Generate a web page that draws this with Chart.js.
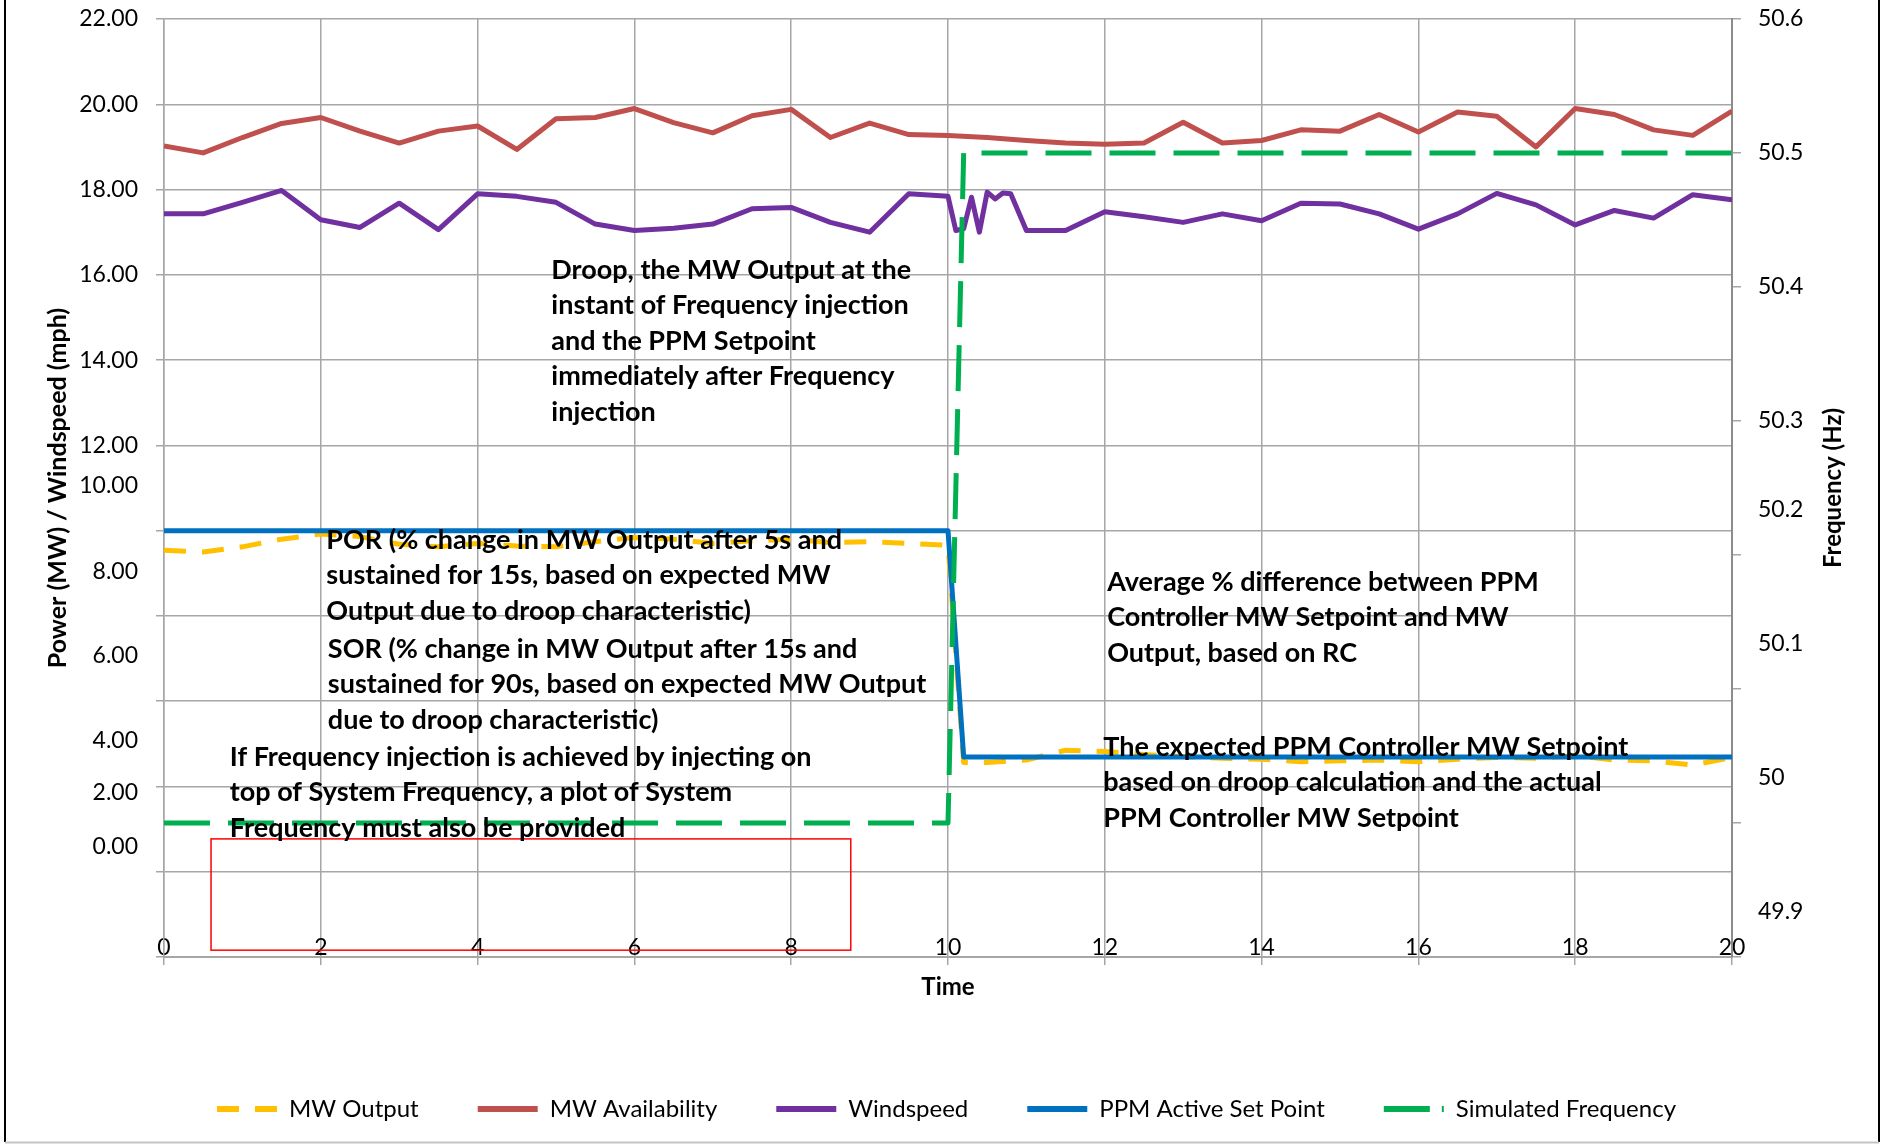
<!DOCTYPE html>
<html>
<head>
<meta charset="utf-8">
<title>Frequency injection test</title>
<script src="https://cdn.jsdelivr.net/npm/chart.js@4.4.0/dist/chart.umd.min.js"></script>
<style>
  html, body { margin: 0; padding: 0; background: #fff; }
  #contenedor { width: 1881px; height: 1144px; }
</style>
</head>
<body>
<div id="contenedor"><canvas id="grafica" width="1881" height="1144"></canvas></div>
<script>
// Datos
const availTime = [0, 0.5, 1, 1.5, 2, 2.5, 3, 3.5, 4, 4.5, 5, 5.5, 6, 6.5, 7, 7.5, 8, 8.5, 9, 9.5, 10,
  10.5, 11, 11.5, 12, 12.5, 13, 13.5, 14, 14.5, 15, 15.5, 16, 16.5, 17, 17.5, 18, 18.5, 19, 19.5, 20];
const availMW = [19.02, 18.86, 19.22, 19.55, 19.69, 19.37, 19.09, 19.37, 19.49, 18.94, 19.66, 19.69, 19.90, 19.57, 19.33, 19.73, 19.88, 19.22, 19.56, 19.29, 19.27,
  19.22, 19.15, 19.09, 19.06, 19.09, 19.58, 19.09, 19.15, 19.40, 19.37, 19.76, 19.35, 19.82, 19.72, 19.00, 19.90, 19.76, 19.40, 19.27, 19.84];

const windTime = [0, 0.5, 1, 1.5, 2, 2.5, 3, 3.5, 4, 4.5, 5, 5.5, 6, 6.5, 7, 7.5, 8, 8.5, 9, 9.5, 10,
  10.1, 10.2, 10.3, 10.4, 10.5, 10.6, 10.7, 10.8,
  11, 11.5, 12, 12.5, 13, 13.5, 14, 14.5, 15, 15.5, 16, 16.5, 17, 17.5, 18, 18.5, 19, 19.5, 20];
const windMph = [17.43, 17.43, 17.70, 17.98, 17.29, 17.11, 17.68, 17.06, 17.90, 17.84, 17.70, 17.19, 17.04, 17.09, 17.19, 17.55, 17.58, 17.23, 17.00, 17.90, 17.84,
  17.04, 17.08, 17.82, 17.00, 17.94, 17.78, 17.92, 17.90,
  17.04, 17.04, 17.48, 17.36, 17.23, 17.43, 17.27, 17.68, 17.66, 17.43, 17.07, 17.43, 17.91, 17.64, 17.17, 17.51, 17.33, 17.88, 17.76];

const outTime = [0, 0.5, 1, 1.5, 2, 2.5, 3, 3.5, 4, 4.5, 5, 5.5, 6, 6.5, 7, 7.5, 8, 8.5, 9, 9.5, 10,
  10.2, 10.5, 11, 11.5, 12, 12.5, 13, 13.5, 14, 14.5, 15, 15.5, 16, 16.5, 17, 17.5, 18, 18.5, 19, 19.5, 20];
const outMW = [9.54, 9.50, 9.62, 9.80, 9.92, 9.86, 9.68, 9.62, 9.70, 9.64, 9.62, 9.74, 9.84, 9.80, 9.70, 9.76, 9.80, 9.72, 9.74, 9.70, 9.66,
  4.56, 4.56, 4.62, 4.85, 4.82, 4.75, 4.70, 4.66, 4.64, 4.58, 4.60, 4.62, 4.58, 4.64, 4.68, 4.66, 4.72, 4.62, 4.60, 4.50, 4.68];

const setTime = [0, 10, 10.2, 20];
const setMW = [10, 10, 4.69, 4.69];

const freqTime = [0, 10, 10.2, 20];
const freqHz = [50.0, 50.0, 50.5, 50.5];

// Etiquetas de los ejes (tal como aparecen en el original)
const leftTickLabels = ['22.00', '20.00', '18.00', '16.00', '14.00', '12.00', '10.00', '8.00', '6.00', '4.00', '2.00', '0.00'];
const leftLabelAt = [22, 20, 18, 16, 14, 12, 11.05, 9.05, 7.06, 5.07, 3.85, 2.60];
const rightTickLabels = ['50.6', '50.5', '50.4', '50.3', '50.2', '50.1', '50', '49.9'];
const rightLabelAt = [50.6, 50.5, 50.4, 50.3, 50.234, 50.134, 50.034, 49.934];

// Textos dentro del area de la grafica (t = tiempo, v = valor eje izquierdo)
const notas = [
  { t: 4.94, v: 16.11, lineas: ['Droop, the MW Output at the', 'instant of Frequency injection', 'and the PPM Setpoint', 'immediately after Frequency', 'injection'] },
  { t: 2.07, v: 9.78, lineas: ['POR (% change in MW Output after 5s and', 'sustained for 15s, based on expected MW', 'Output due to droop characteristic)'] },
  { t: 2.09, v: 7.22, lineas: ['SOR (% change in MW Output after 15s and', 'sustained for 90s, based on expected MW Output', 'due to droop characteristic)'] },
  { t: 0.84, v: 4.69, lineas: ['If Frequency injection is achieved by injecting on', 'top of System Frequency, a plot of System', 'Frequency must also be provided'] },
  { t: 12.03, v: 8.79, lineas: ['Average % difference between PPM', 'Controller MW Setpoint and MW', 'Output, based on RC'] },
  { t: 11.98, v: 4.92, lineas: ['The expected PPM Controller MW Setpoint', 'based on droop calculation and the actual', 'PPM Controller MW Setpoint'] }
];
const recuadro = { t0: 0.6, t1: 8.76, v0: 0.16, v1: 2.77 };

document.addEventListener('DOMContentLoaded', function() {
    Chart.defaults.font.family = 'Lato';
    Chart.defaults.color = '#000';

    const gris = '#A6A6A6';
    const fuenteEje = { family: 'Lato', size: 23 };
    const fuenteTitulo = { family: 'Lato', size: 24, weight: 'bold' };

    // patrones de guiones para la leyenda
    const legendDash = {
        'MW Output': [22, 16, 22, 60],
        'Simulated Frequency': [46, 12, 2, 60]
    };

    const puntos = (xs, ys) => xs.map((x, i) => ({ x: x, y: ys[i] }));

    // quita el relleno extra que Chart.js deja para las etiquetas
    const sinRelleno = function(scale) {
        scale.paddingTop = 0;
        scale.paddingBottom = 0;
    };

    // Fondo blanco, marco y titulo del eje derecho
    const marcoPlugin = {
        id: 'marco',
        beforeDraw(chart) {
            const { ctx, width, height } = chart;
            ctx.save();
            ctx.fillStyle = '#fff';
            ctx.fillRect(0, 0, width, height);
            ctx.restore();
        },
        afterDraw(chart) {
            const { ctx, width, height, chartArea } = chart;
            ctx.save();
            ctx.strokeStyle = '#000';
            ctx.lineWidth = 2;
            ctx.beginPath();
            ctx.moveTo(5, 0); ctx.lineTo(5, height - 2);
            ctx.moveTo(width - 2, 0); ctx.lineTo(width - 2, height - 2);
            ctx.stroke();
            ctx.strokeStyle = '#C4C4C4';
            ctx.beginPath();
            ctx.moveTo(5, height - 1.5); ctx.lineTo(width - 2, height - 1.5);
            ctx.stroke();

            // titulo "Frequency (Hz)" leido de abajo hacia arriba
            const eje = chart.scales.y1Lbl;
            ctx.translate(eje.right - 48, (chartArea.top + chartArea.bottom) / 2);
            ctx.rotate(-Math.PI / 2);
            ctx.font = 'bold 24px Lato';
            ctx.fillStyle = '#000';
            ctx.textAlign = 'center';
            ctx.textBaseline = 'middle';
            ctx.fillText('Frequency (Hz)', 0, 0);
            ctx.restore();
        }
    };

    // Notas de texto y recuadro rojo
    const notasPlugin = {
        id: 'notas',
        afterDatasetsDraw(chart) {
            const { ctx } = chart;
            const x = chart.scales.x;
            const y = chart.scales.y;
            ctx.save();
            ctx.strokeStyle = '#FF0000';
            ctx.lineWidth = 1.5;
            const rx0 = x.getPixelForValue(recuadro.t0);
            const rx1 = x.getPixelForValue(recuadro.t1);
            const ry0 = y.getPixelForValue(recuadro.v1);
            const ry1 = y.getPixelForValue(recuadro.v0);
            ctx.strokeRect(rx0, ry0, rx1 - rx0, ry1 - ry0);

            ctx.fillStyle = '#000';
            ctx.font = 'bold 27px Lato';
            ctx.textAlign = 'left';
            ctx.textBaseline = 'middle';
            notas.forEach(nota => {
                const px = x.getPixelForValue(nota.t);
                const py = y.getPixelForValue(nota.v);
                nota.lineas.forEach((linea, i) => ctx.fillText(linea, px, py + i * 35.5));
            });
            ctx.restore();
        }
    };

    const ctxGrafica = document.getElementById('grafica').getContext('2d');

    new Chart(ctxGrafica, {
        type: 'line',
        data: {
            datasets: [
                {
                    label: 'MW Output',
                    data: puntos(outTime, outMW),
                    borderColor: '#FFC000',
                    backgroundColor: '#FFC000',
                    borderWidth: 5,
                    borderDash: [22, 16],
                    yAxisID: 'y',
                    order: 5
                },
                {
                    label: 'MW Availability',
                    data: puntos(availTime, availMW),
                    borderColor: '#C0504D',
                    backgroundColor: '#C0504D',
                    borderWidth: 5,
                    yAxisID: 'y',
                    order: 4
                },
                {
                    label: 'Windspeed',
                    data: puntos(windTime, windMph),
                    borderColor: '#7030A0',
                    backgroundColor: '#7030A0',
                    borderWidth: 5,
                    yAxisID: 'y',
                    order: 3
                },
                {
                    label: 'PPM Active Set Point',
                    data: puntos(setTime, setMW),
                    borderColor: '#0070C0',
                    backgroundColor: '#0070C0',
                    borderWidth: 5,
                    yAxisID: 'y',
                    order: 2
                },
                {
                    label: 'Simulated Frequency',
                    data: puntos(freqTime, freqHz),
                    borderColor: '#00B050',
                    backgroundColor: '#00B050',
                    borderWidth: 5,
                    borderDash: [46, 18],
                    yAxisID: 'y1',
                    order: 1
                }
            ]
        },
        options: {
            responsive: false,
            animation: false,
            devicePixelRatio: 1,
            layout: {
                padding: { left: 12, right: 0, top: 19, bottom: 13 }
            },
            elements: {
                point: { radius: 0 },
                line: { tension: 0, borderCapStyle: 'butt', borderJoinStyle: 'round' }
            },
            plugins: {
                legend: {
                    position: 'bottom',
                    labels: {
                        usePointStyle: true,
                        pointStyle: 'line',
                        pointStyleWidth: 60,
                        padding: 59,
                        color: '#000',
                        font: { family: 'Lato', size: 24 },
                        sort: (a, b) => a.datasetIndex - b.datasetIndex,
                        generateLabels: function(chart) {
                            const items = Chart.defaults.plugins.legend.labels.generateLabels(chart);
                            items.forEach(item => {
                                item.lineDash = legendDash[item.text] || [];
                                item.lineWidth = 6;
                            });
                            return items;
                        }
                    }
                },
                tooltip: { enabled: false }
            },
            scales: {
                x: {
                    type: 'linear',
                    min: 0,
                    max: 20,
                    // etiquetas encima de la linea del eje, como en el original
                    ticks: { stepSize: 2, font: fuenteEje, color: '#000', mirror: true, padding: -4 },
                    grid: { color: gris, lineWidth: 1.5, tickLength: 8 },
                    border: { color: gris, width: 2 },
                    title: {
                        display: true,
                        text: 'Time',
                        font: fuenteTitulo,
                        color: '#000',
                        padding: { top: 0, bottom: 36 }
                    },
                    afterFit: function(scale) { scale.height = 81; }
                },
                y: {
                    position: 'left',
                    weight: 0,
                    min: 0,
                    max: 22,
                    ticks: { display: false, stepSize: 2 },
                    grid: { color: gris, lineWidth: 1.5, tickLength: 8 },
                    border: { color: gris, width: 1.5 },
                    afterFit: function(scale) { scale.width = 8; sinRelleno(scale); }
                },
                yLbl: {
                    position: 'left',
                    weight: 1,
                    min: 0,
                    max: 22,
                    grid: { display: false, drawTicks: false },
                    border: { display: false },
                    afterBuildTicks: function(scale) {
                        scale.ticks = leftLabelAt.map(v => ({ value: v }));
                    },
                    ticks: {
                        autoSkip: false,
                        padding: 18,
                        font: fuenteEje,
                        color: '#000',
                        callback: (value, index) => leftTickLabels[index]
                    },
                    title: {
                        display: true,
                        text: 'Power (MW) / Windspeed (mph)',
                        font: { family: 'Lato', size: 25, weight: 'bold' },
                        color: '#000',
                        padding: { top: 31, bottom: 0 }
                    },
                    afterFit: function(scale) { scale.width = 144; sinRelleno(scale); }
                },
                y1: {
                    position: 'right',
                    weight: 0,
                    min: 49.9,
                    max: 50.6,
                    ticks: { display: false, stepSize: 0.1 },
                    grid: { drawOnChartArea: false, color: gris, lineWidth: 1.5, tickLength: 9 },
                    border: { color: '#8C8C8C', width: 2 },
                    afterFit: function(scale) { scale.width = 9; sinRelleno(scale); }
                },
                y1Lbl: {
                    position: 'right',
                    weight: 1,
                    min: 49.9,
                    max: 50.6,
                    grid: { display: false, drawTicks: false },
                    border: { display: false },
                    afterBuildTicks: function(scale) {
                        scale.ticks = rightLabelAt.map(v => ({ value: v }));
                    },
                    ticks: {
                        autoSkip: false,
                        padding: 17,
                        font: fuenteEje,
                        color: '#000',
                        callback: (value, index) => rightTickLabels[index]
                    },
                    afterFit: function(scale) { scale.width = 140; sinRelleno(scale); }
                }
            }
        },
        plugins: [marcoPlugin, notasPlugin]
    });
});
</script>
</body>
</html>
